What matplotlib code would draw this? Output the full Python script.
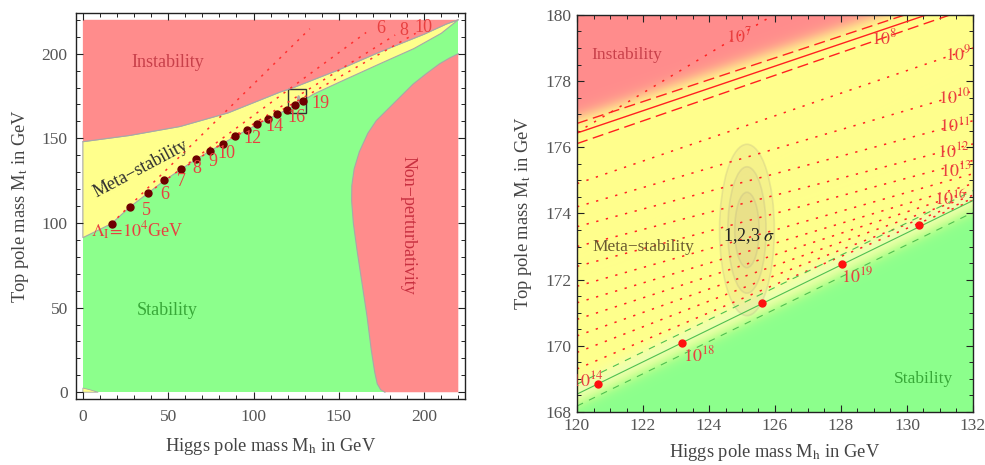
import numpy as np
import matplotlib
matplotlib.use('Agg')
import matplotlib.pyplot as plt
import matplotlib.patches as patches
from matplotlib.ticker import MultipleLocator

plt.rcParams['font.family'] = ['Liberation Serif', 'DejaVu Serif']
plt.rcParams['mathtext.fontset'] = 'stix'

RED = '#ff8c8c'
YELLOW = '#ffff8c'
GREEN = '#8cff8c'
EDGE = '#a8a8a8'
TXT = '#555555'
LBL_RED = '#e84040'

# ---------------- left panel data (Mh, Mt in GeV) ----------------
inst_mh = [0, 27.5, 57, 85, 115.5, 123, 150, 174, 200, 213, 220]
inst_mt = [148, 151.7, 157, 165, 177.3, 179.8, 190.5, 201, 211.5, 217.5, 220]

# Lambda_I dots, exponents 4..19
lam_exp = [4, 5, 6, 7, 8, 9, 10, 11, 12, 13, 14, 15, 16, 17, 18, 19]
dot_mh = [16.8, 27.5, 38.3, 47.8, 57.4, 66.2, 74.4, 81.9, 89.1, 95.9, 102.2, 108.3, 113.9, 119.4, 124.3, 128.8]
dot_mt = [99.6, 109.4, 117.7, 125.1, 131.6, 137.5, 142.4, 146.8, 151.1, 154.7, 158.2, 161.2, 164.1, 166.9, 169.6, 172.1]

# lower edge of meta-stability beyond the last dot
meta_mh = [0] + dot_mh + [135, 150, 174, 194, 210, 220]
meta_mt = [91.3] + dot_mt + [176, 183, 194, 203, 212, 220]

# non-perturbativity region, left boundary from bottom to top
npert_mh = [177, 174.5, 172.5, 171, 169, 166.5, 163.5, 160.5, 158.5, 157.5, 157.6, 159, 162,
            167, 172, 178, 185, 193.5, 201, 209, 215, 220]
npert_mt = [0, 1.5, 5, 12, 25, 45, 65, 85, 100, 113, 122, 132, 142,
            153, 160.5, 166.5, 173.5, 182, 188, 194, 197.5, 200]

dot_labels = ['5', '6', '7', '8', '9', '10', '12', '14', '16', '19']
dot_lab_mh = [37.3, 48.1, 57.4, 66.8, 76.0, 84.2, 99.5, 112.1, 124.9, 139.3]
dot_lab_mt = [107.4, 116.9, 124.6, 132.2, 136.4, 141.3, 150.1, 157.0, 162.5, 170.4]

# dotted lines in the left panel (start, end)
ldot_x0 = [16.8, 38.3, 57.4, 74.4]
ldot_y0 = [99.6, 117.7, 131.6, 142.4]
ldot_x1 = [133, 166, 183, 195]
ldot_y1 = [214.7, 212.5, 211, 212]
top_labels = ['6', '8', '10']
top_lab_mh = [174.7, 188.2, 199.5]
top_lab_mt = [214.7, 213.7, 215.6]

# ---------------- right panel data ----------------
sm_mh = [120.65, 123.17, 125.62, 128.02, 130.37]
sm_mt = [168.84, 170.08, 171.29, 172.48, 173.64]

# red lines: intercept at Mh=120, slope
red_solid = (176.43, 0.337)
red_dashed = [(176.72, 0.33), (176.11, 0.344)]
# green stability lines
green_solid = (168.54, 0.4875)
green_dashed = [(168.84, 0.4875), (168.18, 0.4875)]
# dotted Lambda lines: Mt at Mh=120 and at Mh=132
rdot_left = [176.45, 174.9, 174.2, 173.6, 173.0, 172.4, 171.8, 171.3, 170.8, 170.3, 169.8, 169.3]
rdot_right = [183.6, 179.0, 177.7, 176.8, 176.1, 175.6, 175.2, 174.9, 174.7, 174.55, 174.45, 174.4]

# 1,2,3 sigma ellipses: half widths in Mh and Mt
ell_center = (125.15, 173.5)
ell_w = [0.37, 0.58, 0.83]
ell_h = [1.14, 1.91, 2.59]

exp_labels = ['$10^7$', '$10^8$', '$10^9$', '$10^{10}$', '$10^{11}$', '$10^{12}$',
              '$10^{13}$', '$10^{16}$', '$10^{19}$', '$10^{18}$', '$10^{14}$']
exp_lab_mh = [124.9, 129.3, 131.55, 131.43, 131.45, 131.4, 131.48, 131.3, 128.5, 123.7, 120.3]
exp_lab_mt = [179.34, 179.3, 178.8, 177.5, 176.6, 175.87, 175.3, 174.4, 172.1, 169.7, 168.95]


def style_axes(ax, major, minor, xpad, ypad):
    ax.xaxis.set_major_locator(MultipleLocator(major))
    ax.xaxis.set_minor_locator(MultipleLocator(minor))
    ax.yaxis.set_major_locator(MultipleLocator(major))
    ax.yaxis.set_minor_locator(MultipleLocator(minor))
    ax.tick_params(which='both', direction='in', top=True, right=True,
                   labelsize=12.5, labelcolor=TXT, color='#222222')
    ax.tick_params(which='major', length=5, width=0.8)
    ax.tick_params(which='minor', length=3, width=0.7)
    ax.tick_params(axis='x', pad=xpad)
    ax.tick_params(axis='y', pad=ypad)
    for s in ax.spines.values():
        s.set_linewidth(1.0)
        s.set_color('#222222')


fig = plt.figure(figsize=(9.85, 4.65), dpi=100)
ax1 = fig.add_axes([0.0772, 0.1419, 0.395, 0.8301])
ax2 = fig.add_axes([0.5858, 0.114, 0.402, 0.854])

# ---------- left ----------
ax1.add_patch(patches.Rectangle((0, 0), 220, 220, facecolor=GREEN, edgecolor='none'))
yel = list(zip(meta_mh, meta_mt)) + list(zip(inst_mh, inst_mt))[::-1]
ax1.add_patch(patches.Polygon(yel, closed=True, facecolor=YELLOW, edgecolor=EDGE, lw=0.8))
red = list(zip(inst_mh, inst_mt)) + [(220, 220), (0, 220)]
ax1.add_patch(patches.Polygon(red, closed=True, facecolor=RED, edgecolor='none'))
ax1.plot(inst_mh, inst_mt, color=EDGE, lw=0.8)
npert = list(zip(npert_mh, npert_mt)) + [(220, 0)]
ax1.add_patch(patches.Polygon(npert, closed=True, facecolor=RED, edgecolor='none'))
ax1.plot(npert_mh, npert_mt, color=EDGE, lw=0.8)
ax1.add_patch(patches.Polygon([(0, 0), (9, 0), (4, 1.5), (0, 2.5)], closed=True,
                              facecolor=YELLOW, edgecolor=EDGE, lw=0.6))

for x0, y0, x1, y1 in zip(ldot_x0, ldot_y0, ldot_x1, ldot_y1):
    ax1.plot([x0, x1], [y0, y1], color='#ff3030', lw=1.1, ls=(0, (1.5, 4)))

ax1.plot(dot_mh, dot_mt, 'o', color='#6e0000', ms=5)
for t, x, y in zip(dot_labels, dot_lab_mh, dot_lab_mt):
    ax1.text(x, y, t, color=LBL_RED, fontsize=13, ha='center', va='center')
for t, x, y in zip(top_labels, top_lab_mh, top_lab_mt):
    ax1.text(x, y, t, color=LBL_RED, fontsize=13, ha='center', va='center')
ax1.text(32, 95.5, r'$\Lambda_{\rm I}\!=\!10^4$GeV', color=LBL_RED, fontsize=13,
         ha='center', va='center')

ax1.add_patch(patches.Rectangle((120, 165), 11, 14.2, fill=False, edgecolor='#333333', lw=1.0))
ax1.add_patch(patches.Ellipse((126.4, 173.2), 2.0, 4.5, facecolor='#b0b0a0', edgecolor='none'))

ax1.text(50, 195, 'Instability', color='#c8404a', fontsize=13, ha='center', va='center')
ax1.text(49.5, 48.4, 'Stability', color='#38a838', fontsize=13, ha='center', va='center')
ax1.text(34, 132, 'Meta\u2212stability', color='#303030', fontsize=13, ha='center',
         va='center', rotation=28)
ax1.text(190.5, 98.6, 'Non\u2212perturbativity', color='#c83040', fontsize=13,
         ha='center', va='center', rotation=-90)

ax1.set_xlim(-4, 224)
ax1.set_ylim(-4, 224)
style_axes(ax1, 50, 10, 7, 6)
ax1.set_xlabel('Higgs pole mass M$_{\\rm h}$ in GeV', fontsize=13.3, color='#444444', labelpad=8)
ax1.set_ylabel('Top pole mass M$_{\\rm t}$ in GeV', fontsize=13.3, color='#444444', labelpad=8)

# ---------- right ----------
mh = np.linspace(120, 132, 600)
mt = np.linspace(168, 180, 600)
MH, MT = np.meshgrid(mh, mt)
c_red = np.array([1.0, 0.55, 0.55])
c_yel = np.array([1.0, 1.0, 0.55])
c_grn = np.array([0.55, 1.0, 0.55])
c_lt = np.array([0.93, 1.0, 0.72])
inst_edge = red_solid[0] + 0.45 + red_solid[1] * (MH - 120)
f_red = 1 / (1 + np.exp(-(MT - inst_edge) / 0.13))
stab_line = green_solid[0] + green_solid[1] * (MH - 120)
f_grn = 1 / (1 + np.exp((MT - (stab_line - 0.3)) / 0.12))
f_lt = np.exp(-((MT - (stab_line + 0.05)) / 0.35) ** 2) * 0.8
img = c_yel * (1 - f_red[..., None]) + c_red * f_red[..., None]
img = img * (1 - f_lt[..., None]) + c_lt * f_lt[..., None]
img = img * (1 - f_grn[..., None]) + c_grn * f_grn[..., None]
ax2.imshow(img, extent=[120, 132, 168, 180], origin='lower', aspect='auto',
           interpolation='bilinear')

xx = np.array([120, 132])
for yl, yr in zip(rdot_left, rdot_right):
    ax2.plot(xx, [yl, yr], color='#ff2020', lw=1.1, ls=(0, (1.5, 5)))
ax2.plot(xx, red_solid[0] + red_solid[1] * (xx - 120), color='#ff2020', lw=1.0)
for b, s in red_dashed:
    ax2.plot(xx, b + s * (xx - 120), color='#ff2020', lw=1.0, ls=(0, (8, 4)))
ax2.plot(xx, green_solid[0] + green_solid[1] * (xx - 120), color='#50c050', lw=0.8)
for b, s in green_dashed:
    ax2.plot(xx, b + s * (xx - 120), color='#50c050', lw=0.8, ls=(0, (6, 6)))

for w, h in zip(ell_w[::-1], ell_h[::-1]):
    ax2.add_patch(patches.Ellipse(ell_center, 2 * w, 2 * h, facecolor='#d8c888',
                                  alpha=0.22, edgecolor='#a8a088', lw=1.2))

ax2.plot(sm_mh, sm_mt, 'o', color='#ff1010', ms=5)
for t, x, y in zip(exp_labels, exp_lab_mh, exp_lab_mt):
    ax2.text(x, y, t, color=LBL_RED, fontsize=13, ha='center', va='center', clip_on=True)

ax2.text(125.2, 173.33, r'1,2,3 $\sigma$', color='#222222', fontsize=13, ha='center', va='center')
ax2.text(121.5, 178.79, 'Instability', color='#c8404a', fontsize=12.5, ha='center', va='center')
ax2.text(122.0, 172.98, 'Meta\u2212stability', color='#6a5a30', fontsize=12.5, ha='center', va='center')
ax2.text(130.5, 169.0, 'Stability', color='#38a838', fontsize=12.5, ha='center', va='center')

ax2.set_xlim(120, 132)
ax2.set_ylim(168, 180)
style_axes(ax2, 2, 0.5, 4, 4)
ax2.set_xlabel('Higgs pole mass M$_{\\rm h}$ in GeV', fontsize=13.3, color='#444444', labelpad=6)
ax2.set_ylabel('Top pole mass M$_{\\rm t}$ in GeV', fontsize=13.3, color='#444444', labelpad=8)

fig.savefig('out.png', dpi=100)
